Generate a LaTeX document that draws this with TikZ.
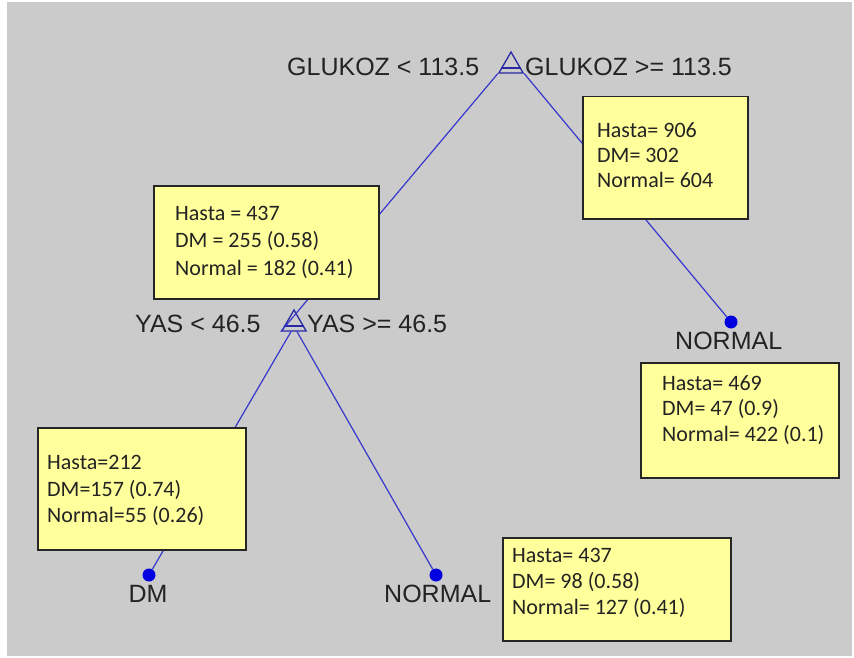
\documentclass[tikz,border=0pt]{standalone}
\usepackage{fontspec}
\setmainfont{Liberation Sans}
\newfontfamily\boxfont{Carlito}
\usetikzlibrary{shapes.geometric,calc}
\definecolor{bg}{RGB}{203,203,203}
\definecolor{boxyellow}{RGB}{255,255,155}
\definecolor{linkblue}{RGB}{55,55,205}
\definecolor{dotblue}{RGB}{0,0,225}
\definecolor{triblue}{RGB}{40,40,165}
\definecolor{txt}{RGB}{35,35,35}
\begin{document}
\begin{tikzpicture}[x=1pt,y=-1pt,
  splitlabel/.style={inner sep=0pt, text=txt, font=\fontsize{25}{30}\selectfont},
  infobox/.style={draw=black!85, line width=1.5pt, fill=boxyellow, anchor=north west, inner sep=0pt},
  infotext/.style={inner sep=0pt, text=txt, align=left, anchor=west},
  leafdot/.style={circle, fill=dotblue, inner sep=0pt, minimum size=13pt},
  link/.style={draw=linkblue, line width=1.2pt},
  splittri/.style={regular polygon, regular polygon sides=3, draw=triblue, line width=1.3pt, inner sep=0pt, minimum size=28pt},
  tribar/.style={draw=triblue, line width=1.2pt}
]
\useasboundingbox (0,0) rectangle (854,658);
\fill[white] (0,0) rectangle (854,658);
\fill[bg] (7,2) rectangle (852,656);

% split symbols and leaf dots
\node[splittri] (t1) at (511,66) {};
\node[splittri] (t2) at (294,324) {};
\node[leafdot] (d1) at (731,322) {};
\node[leafdot] (d2) at (149,575) {};
\node[leafdot] (d3) at (436,575) {};

% inner bars of the split symbols
\draw[tribar] ($(t1.corner 2)!0.25!(t1.corner 1)$) -- ($(t1.corner 3)!0.25!(t1.corner 1)$);
\draw[tribar] ($(t2.corner 2)!0.25!(t2.corner 1)$) -- ($(t2.corner 3)!0.25!(t2.corner 1)$);

% connectors
\draw[link] (t1.corner 2) -- (t2.corner 2);
\draw[link] (t1.corner 3) -- (d1);
\draw[link] ([xshift=-3pt]t2.south) -- (d2);
\draw[link] ([xshift=3pt]t2.south) -- (d3);

% split labels
\node[splitlabel, anchor=base west] (l1) at (287,75.5) {GLUKOZ < 113.5};
\node[splitlabel, anchor=base west] (l2) at (525,75.5) {GLUKOZ >= 113.5};
\node[splitlabel, anchor=base west] (l3) at (135,332) {YAS < 46.5};
\node[splitlabel, anchor=base west] (l4) at (307,332) {YAS >= 46.5};
\node[splitlabel, anchor=base west] (l5) at (675,349) {NORMAL};
\node[splitlabel, anchor=base] (l6) at (148,602) {DM};
\node[splitlabel, anchor=base west] (l7) at (384,602) {NORMAL};

% info boxes
\node[infobox, minimum width=165pt, minimum height=122pt] (b1) at (582,96) {};
\node[infotext, font=\boxfont\fontsize{22}{25}\selectfont] (x1) at (597,155) {Hasta= 906\\DM= 302\\Normal= 604};

\node[infobox, minimum width=225pt, minimum height=113pt] (b2) at (153,185) {};
\node[infotext, font=\boxfont\fontsize{22}{27.5}\selectfont] (x2) at (175,242) {Hasta = 437\\DM = 255 (0.58)\\Normal = 182 (0.41)};

\node[infobox, minimum width=198pt, minimum height=115pt] (b3) at (640,362) {};
\node[infotext, font=\boxfont\fontsize{22}{25.5}\selectfont] (x3) at (662,410) {Hasta= 469\\DM= 47 (0.9)\\Normal= 422 (0.1)};

\node[infobox, minimum width=208pt, minimum height=122pt] (b4) at (37,427) {};
\node[infotext, font=\boxfont\fontsize{22}{26.5}\selectfont] (x4) at (47,490.5) {Hasta=212\\DM=157 (0.74)\\Normal=55 (0.26)};

\node[infobox, minimum width=228pt, minimum height=103pt] (b5) at (502,537) {};
\node[infotext, font=\boxfont\fontsize{22}{26}\selectfont] (x5) at (512,583) {Hasta= 437\\DM= 98 (0.58)\\Normal= 127 (0.41)};
\end{tikzpicture}
\end{document}
